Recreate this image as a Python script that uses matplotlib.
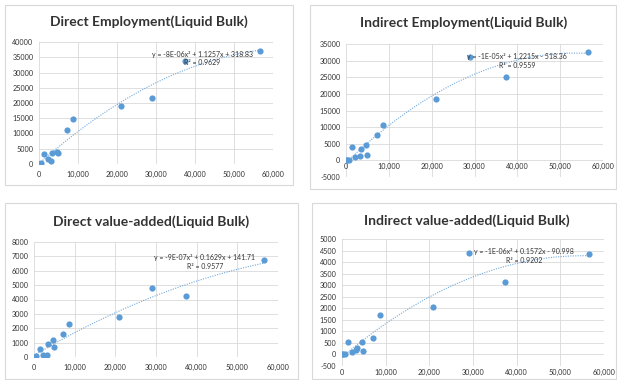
import numpy as np
import matplotlib
matplotlib.use("Agg")
import matplotlib.pyplot as plt
from matplotlib.patches import Rectangle
from matplotlib.ticker import FuncFormatter, MultipleLocator

plt.rcParams['font.family'] = ['Lato', 'DejaVu Sans']

# throughput of each liquid bulk port (x axis, shared by all four charts)
throughput = [0, 300, 600, 1400, 2200, 3200, 3400, 4600, 4800, 7200, 8700, 20900, 29000, 37400, 56600]

direct_emp = [0, 150, 300, 3400, 1700, 1100, 3700, 4000, 3500, 11300, 14600, 19100, 21800, 33700, 37200]
indirect_emp = [0, 100, 250, 4000, 1100, 1200, 3400, 4700, 1600, 7500, 10700, 18500, 31200, 25000, 32700]
direct_va = [0, 30, 60, 550, 150, 150, 870, 1150, 700, 1630, 2280, 2760, 4780, 4260, 6750]
indirect_va = [0, 10, 30, 530, 100, 200, 300, 530, 170, 730, 1690, 2050, 4400, 3150, 4340]

titles = ["Direct Employment(Liquid Bulk)", "Indirect Employment(Liquid Bulk)",
          "Direct value-added(Liquid Bulk)", "Indirect value-added(Liquid Bulk)"]
equations = ["y = -8E-06x\u00b2 + 1.1257x + 318.83\nR\u00b2 = 0.9629",
             "y = -1E-05x\u00b2 + 1.2215x - 518.36\nR\u00b2 = 0.9559",
             "y = -9E-07x\u00b2 + 0.1629x + 141.71\nR\u00b2 = 0.9577",
             "y = -1E-06x\u00b2 + 0.1572x - 90.998\nR\u00b2 = 0.9202"]
y_ranges = [(0, 40000, 5000), (-5000, 35000, 5000), (0, 8000, 1000), (-500, 5000, 500)]

W, H = 617, 380
BLUE = '#5B9BD5'
TEXT = '#333333'

def px_rect(l, t, r, b):
    return [l / W, 1 - b / H, (r - l) / W, (b - t) / H]

# plot areas, chart borders and title centres in pixel units
plot_boxes = [(39, 42, 273, 164), (346, 44, 603, 177), (34, 242, 278, 357), (342, 239, 604, 366)]
frames = [(5, 5, 293, 185), (310, 5, 616, 189), (5, 203, 298, 379), (312, 203, 616, 379)]
title_pos = [(149, 22), (464, 23), (151, 222), (467, 221)]
eq_pos = [(0.697, 0.865), (0.665, 0.872), (0.70, 0.825), (0.695, 0.864)]

fig = plt.figure(figsize=(W / 100, H / 100), dpi=100)

for (l, t, r, b) in frames:
    fig.patches.append(Rectangle((l / W, 1 - b / H), (r - l) / W, (b - t) / H,
                                 transform=fig.transFigure, fill=False,
                                 edgecolor='#d9d9d9', linewidth=0.8))

series = [direct_emp, indirect_emp, direct_va, indirect_va]
x = np.array(throughput, dtype=float)

for i, ys in enumerate(series):
    y = np.array(ys, dtype=float)
    ax = fig.add_axes(px_rect(*plot_boxes[i]))
    ymin, ymax, ystep = y_ranges[i]

    ax.scatter(x, y, s=20, color=BLUE, zorder=3, linewidths=0)

    # second order polynomial trendline
    coef = np.polyfit(x, y, 2)
    xs = np.linspace(x.min(), x.max(), 200)
    ax.plot(xs, np.polyval(coef, xs), linestyle=(0, (1, 1.2)), color=BLUE,
            linewidth=0.8, alpha=0.85, zorder=2)

    ax.text(eq_pos[i][0], eq_pos[i][1], equations[i], transform=ax.transAxes,
            ha='center', va='center', multialignment='center', fontsize=5.0,
            color=TEXT, linespacing=1.3, zorder=4)

    ax.set_xlim(0, 60000)
    ax.set_ylim(ymin, ymax)
    ax.xaxis.set_major_locator(MultipleLocator(10000))
    ax.yaxis.set_major_locator(MultipleLocator(ystep))
    ax.xaxis.set_major_formatter(FuncFormatter(lambda v, p: f"{v:,.0f}"))
    ax.yaxis.set_major_formatter(FuncFormatter(lambda v, p: f"{v:.0f}"))
    ax.grid(True, color='#d9d9d9', linewidth=0.6)
    ax.set_axisbelow(True)
    for s in ax.spines.values():
        s.set_visible(False)
    if i == 1:
        ax.spines['bottom'].set_position(('data', 0))
    ax.tick_params(length=0, labelsize=5.2, labelcolor=TEXT, pad=4)
    ax.tick_params(axis='x', pad={1: 2, 3: 2}.get(i, 5))

    tx, ty = title_pos[i]
    fig.text(tx / W, 1 - ty / H, titles[i], ha='center', va='center',
             fontsize=10, fontweight='bold', color=TEXT)

fig.savefig('out.png', dpi=100)
